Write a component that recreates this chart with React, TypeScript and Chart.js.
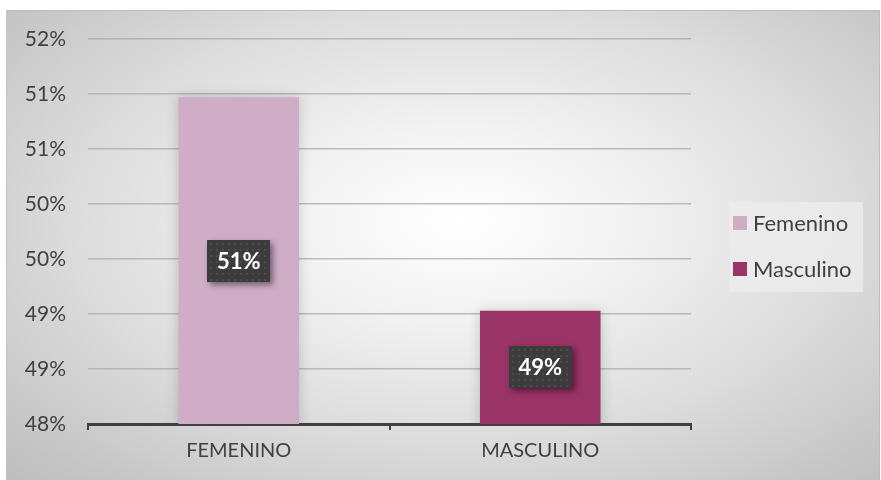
import React, { useEffect, useRef } from "react";
import { Chart, registerables } from "chart.js";

Chart.register(...registerables);

const categories = ["FEMENINO", "MASCULINO"];
const seriesNames = ["Femenino", "Masculino"];
const femeninoValues = [0.5097, null];
const masculinoValues = [null, 0.4903];
const seriesColors = ["#D0ADC7", "#9A3366"];
const yTickLabels = ["48%", "49%", "49%", "50%", "50%", "51%", "51%", "52%"];
const yMin = 0.48;
const yMax = 0.515;
const yStep = 0.005;

const FONT = "Lato, 'Open Sans', sans-serif";

const barShadowPlugin = {
  id: "barShadow",
  beforeDatasetsDraw(chart: any) {
    const ctx = chart.ctx;
    ctx.save();
    ctx.shadowColor = "rgba(0,0,0,0.18)";
    ctx.shadowBlur = 12;
  },
  afterDatasetsDraw(chart: any) {
    chart.ctx.restore();
  },
};

const dataLabelPlugin = {
  id: "boxLabels",
  afterDraw(chart: any) {
    const ctx = chart.ctx;
    const yScale = chart.scales.y;
    const xScale = chart.scales.x;
    chart.data.datasets.forEach((ds: any) => {
      ds.data.forEach((v: any, i: number) => {
        if (v === null || v === undefined) return;
        const text = Math.round(v * 100) + "%";
        const cx = xScale.getPixelForValue(i);
        const top = yScale.getPixelForValue(v);
        const base = yScale.getPixelForValue(yScale.min);
        const cy = (top + base) / 2;
        const w = 63;
        const h = 42;
        const x0 = Math.round(cx - w / 2);
        const y0 = Math.round(cy - h / 2);
        ctx.save();
        ctx.shadowColor = "rgba(0,0,0,0.45)";
        ctx.shadowBlur = 6;
        ctx.shadowOffsetX = 3;
        ctx.shadowOffsetY = 3;
        ctx.fillStyle = "#3c3c3c";
        ctx.fillRect(x0, y0, w, h);
        ctx.restore();
        ctx.save();
        ctx.fillStyle = "#4c4c4c";
        for (let yy = y0 + 3; yy < y0 + h; yy += 6) {
          for (let xx = x0 + 3; xx < x0 + w; xx += 6) {
            ctx.fillRect(xx, yy, 2, 2);
          }
        }
        ctx.fillStyle = "#ffffff";
        ctx.font = "bold 22px " + FONT;
        ctx.textAlign = "center";
        ctx.textBaseline = "middle";
        ctx.fillText(text, cx, cy + 1);
        ctx.restore();
      });
    });
  },
};

const legendPlugin = {
  id: "customLegend",
  afterDraw(chart: any) {
    const ctx = chart.ctx;
    ctx.save();
    ctx.fillStyle = "rgba(236,236,236,0.8)";
    ctx.fillRect(724, 192, 133, 90);
    ctx.font = "22px " + FONT;
    ctx.textBaseline = "middle";
    ctx.textAlign = "left";
    chart.data.datasets.forEach((ds: any, i: number) => {
      const cy = 213 + i * 46;
      ctx.fillStyle = ds.backgroundColor;
      ctx.fillRect(727, cy - 7, 14, 14);
      ctx.fillStyle = "#404040";
      ctx.fillText(ds.label, 747, cy + 1);
    });
    ctx.restore();
  },
};

export default function App() {
  const canvasRef = useRef<HTMLCanvasElement | null>(null);

  useEffect(() => {
    if (!canvasRef.current) return;
    const chart = new Chart(canvasRef.current, {
      type: "bar",
      data: {
        labels: categories,
        datasets: [
          {
            label: seriesNames[0],
            data: femeninoValues,
            backgroundColor: seriesColors[0],
            skipNull: true,
            categoryPercentage: 0.8,
            barPercentage: 0.5,
          } as any,
          {
            label: seriesNames[1],
            data: masculinoValues,
            backgroundColor: seriesColors[1],
            skipNull: true,
            categoryPercentage: 0.8,
            barPercentage: 0.5,
          } as any,
        ],
      },
      options: {
        animation: false,
        responsive: false,
        maintainAspectRatio: false,
        layout: { padding: { top: 29, right: 189, left: 0, bottom: 0 } },
        plugins: {
          legend: { display: false },
          tooltip: { enabled: false },
        },
        scales: {
          x: {
            grid: {
              display: true,
              drawOnChartArea: false,
              drawTicks: true,
              tickLength: 6,
              color: "#404040",
              lineWidth: 2,
            },
            border: { display: true, color: "#404040", width: 3 },
            ticks: {
              color: "#404040",
              font: { family: FONT, size: 20 },
              padding: 9,
            },
            afterFit(scale: any) {
              scale.height = 56;
              scale.paddingLeft = 0;
              scale.paddingRight = 0;
            },
          },
          y: {
            min: yMin,
            max: yMax,
            grid: {
              color: "rgba(170,170,170,0.75)",
              lineWidth: 1.5,
              drawTicks: false,
            },
            border: { display: false },
            ticks: {
              stepSize: yStep,
              color: "#404040",
              font: { family: FONT, size: 21 },
              padding: 22,
              callback: (_v: any, i: number) => yTickLabels[i],
            },
            afterFit(scale: any) {
              scale.width = 82;
              scale.paddingTop = 0;
              scale.paddingBottom = 0;
            },
          },
        },
      },
      plugins: [barShadowPlugin, dataLabelPlugin, legendPlugin],
    });
    return () => chart.destroy();
  }, []);

  return (
    <div
      style={{
        position: "absolute",
        left: 6,
        top: 10,
        width: 874,
        height: 470,
        boxSizing: "border-box",
        borderTop: "1px solid #bdbdbd",
        borderLeft: "1px solid #c4c4c4",
        borderRight: "1px solid #bdbdbd",
        background:
          "radial-gradient(ellipse farthest-corner at 52% 45%, #ffffff 0%, #f3f3f3 25%, #dcdcdc 60%, #bdbdbd 100%)",
      }}
    >
      <canvas
        ref={canvasRef}
        width={874}
        height={470}
        style={{ position: "absolute", left: -1, top: -1, display: "block" }}
      />
    </div>
  );
}
